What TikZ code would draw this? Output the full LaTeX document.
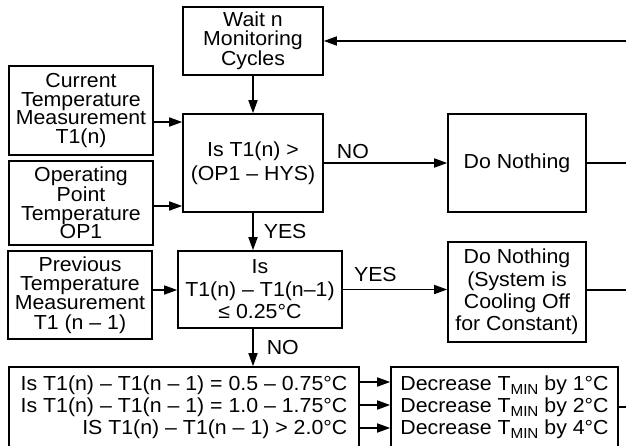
\documentclass[tikz,border=0pt]{standalone}
\usepackage{fontspec}
\setmainfont[FakeStretch=1.05]{Liberation Sans}
\usetikzlibrary{arrows.meta}
\newcommand{\tmin}{T\raisebox{-0.22em}{\fontsize{14.5}{14.5}\selectfont MIN}}
\begin{document}
\begin{tikzpicture}[x=1pt,y=-1pt,line width=1.6pt,
  >={Triangle[length=13pt,width=9pt]},
  box/.style={draw,inner sep=0pt,align=center,font=\fontsize{20.3}{18.7}\selectfont},
  lab/.style={inner sep=0pt,font=\fontsize{20.3}{20}\selectfont}]
\useasboundingbox (0,0) rectangle (626,445);
\node[box,minimum width=140pt,minimum height=68pt] (wait) at (253,41) {Wait n\\Monitoring\\Cycles};
\node[box,minimum width=144pt,minimum height=89pt] (cur) at (81,110.5) {Current\\Temperature\\Measurement\\T1(n)};
\node[box,minimum width=144pt,minimum height=84pt] (op) at (81,203) {Operating\\Point\\Temperature\\OP1};
\node[box,minimum width=140pt,minimum height=98pt,font=\fontsize{20.3}{23.5}\selectfont] (is1) at (253,163) {Is T1(n) \textgreater\\(OP1 – HYS)};
\node[box,minimum width=138pt,minimum height=98pt] (dn1) at (517,163) {Do Nothing};
\node[box,minimum width=144pt,minimum height=88pt,font=\fontsize{20.3}{19.2}\selectfont] (prev) at (80,295) {Previous\\Temperature\\Measurement\\T1 (n – 1)};
\node[box,minimum width=164pt,minimum height=77pt,font=\fontsize{20.3}{22.5}\selectfont] (is2) at (260,289.5) {Is\\T1(n) – T1(n–1)\\≤ 0.25°C};
\node[box,minimum width=138pt,minimum height=100pt,font=\fontsize{20.3}{22.3}\selectfont] (dn2) at (517,292) {Do Nothing\\(System is\\Cooling Off\\for Constant)};
\node[box,minimum width=350pt,minimum height=80pt,align=right,font=\fontsize{20.3}{22}\selectfont] (cond) at (184,407) {Is T1(n) – T1(n – 1) = 0.5 – 0.75°C\\Is T1(n) – T1(n – 1) = 1.0 – 1.75°C\\IS T1(n) – T1(n – 1) \textgreater{} 2.0°C};
\node[box,minimum width=227pt,minimum height=80pt,align=left,font=\fontsize{20.3}{22}\selectfont] (dec) at (504.5,407) {Decrease \tmin{} by 1°C\\Decrease \tmin{} by 2°C\\Decrease \tmin{} by 4°C};
\coordinate (r0) at (628,41);
\coordinate (r1) at (628,163);
\coordinate (r2) at (628,290);
\coordinate (r3) at (628,407);
\draw[->] (wait.south) -- (is1.north);
\draw[->] ([yshift=-11.5pt]cur.east) -- ([yshift=-11.5pt]cur.east -| is1.west);
\draw[->] ([yshift=-3pt]op.east) -- ([yshift=-3pt]op.east -| is1.west);
\draw[->] (is1.east) -- node[lab,pos=0.1,anchor=base west,yshift=5pt] {NO} (dn1.west);
\draw (dn1.east) -- (r1);
\draw[->] (r0) -- (wait.east);
\draw[->] (is1.south) -- node[lab,anchor=west,xshift=10pt] {YES} (is1.south |- is2.north);
\draw[->] ([yshift=5pt]prev.east) -- ([yshift=5pt]prev.east -| is2.west);
\draw[->] (is2.east) -- node[lab,pos=0.1,anchor=base west,yshift=8pt] {YES} (is2.east -| dn2.west);
\draw ([yshift=2pt]dn2.east) -- (r2);
\draw[->] (is1.south |- is2.south) -- node[lab,anchor=west,xshift=13pt] {NO} (is1.south |- cond.north);
\draw[->] ([yshift=25pt]cond.east) -- ([yshift=25pt]cond.east -| dec.west);
\draw[->] ([yshift=2pt]cond.east) -- ([yshift=2pt]cond.east -| dec.west);
\draw[->] ([yshift=-21pt]cond.east) -- ([yshift=-21pt]cond.east -| dec.west);
\draw (dec.east) -- (r3);
\end{tikzpicture}
\end{document}
